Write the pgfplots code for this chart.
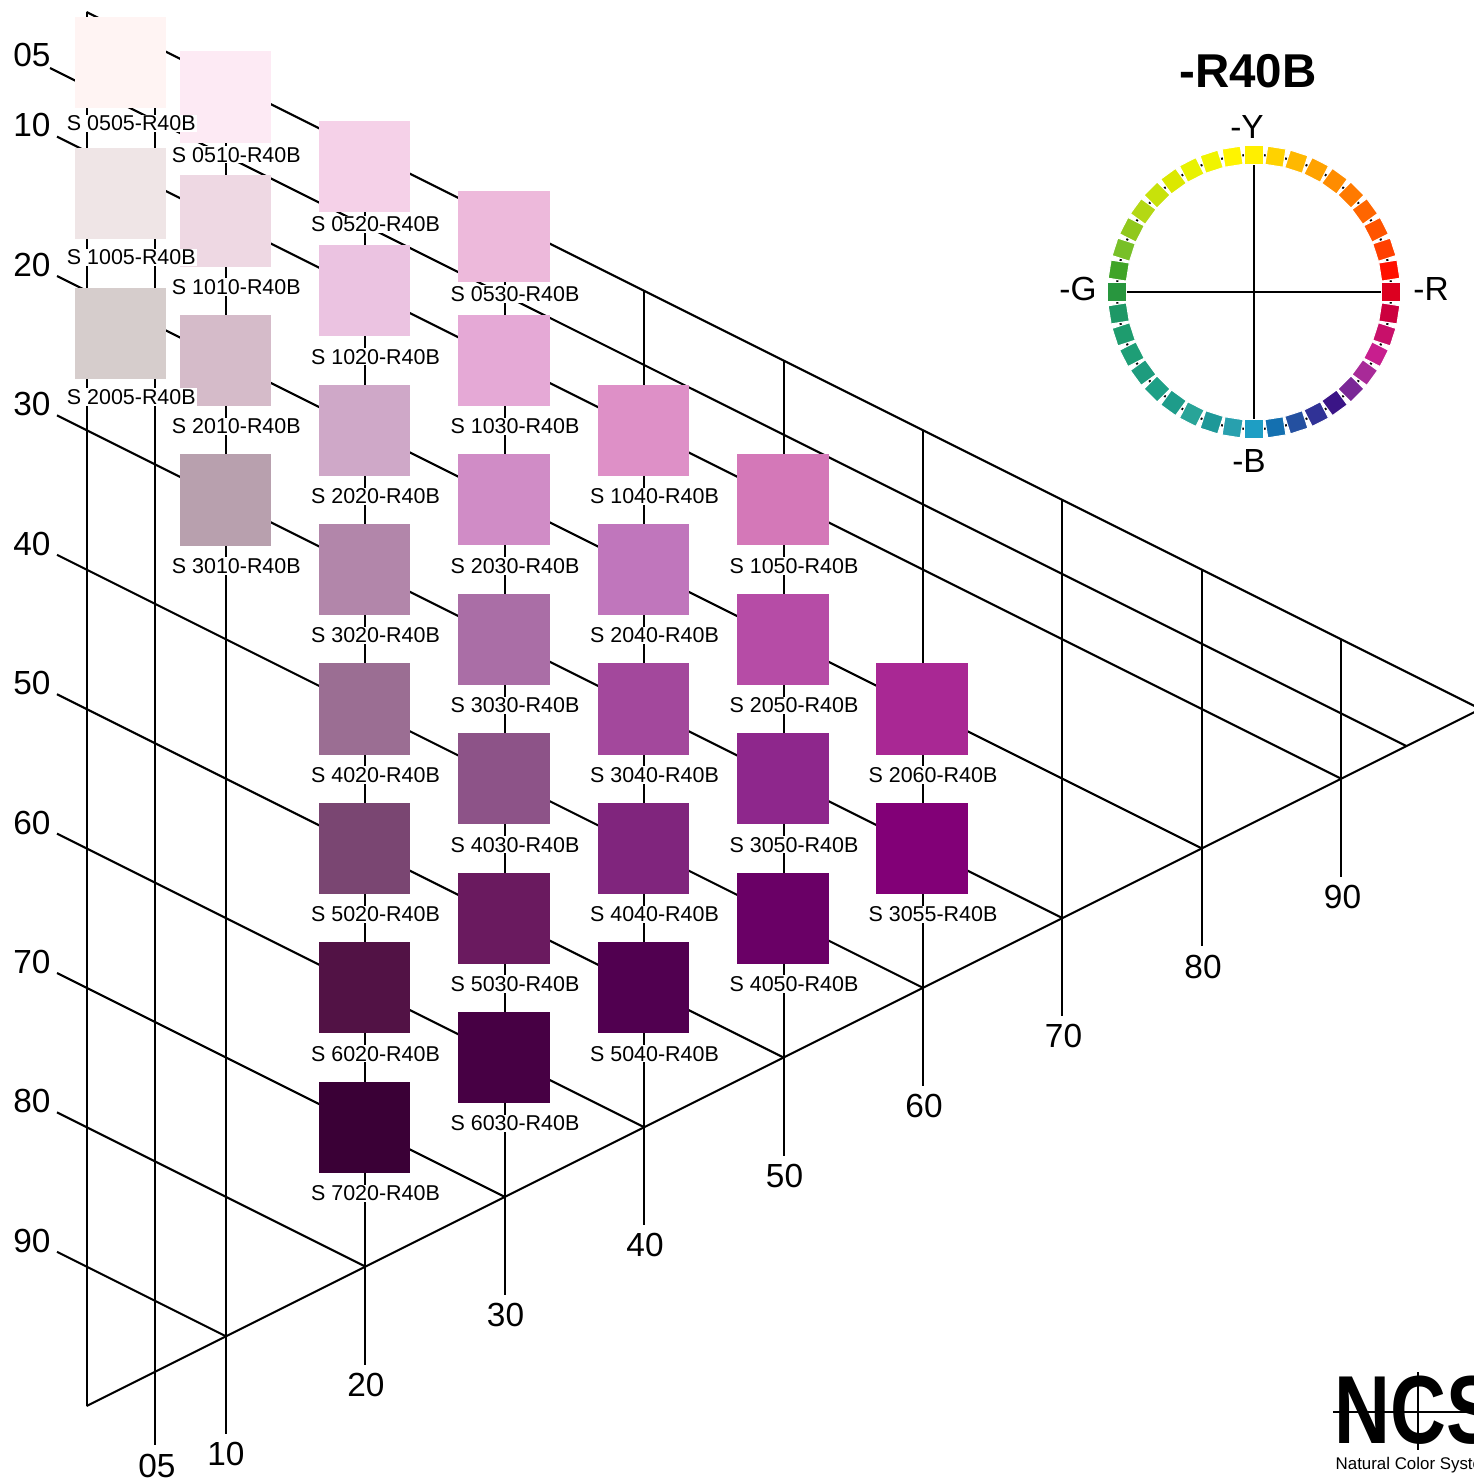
\documentclass[border=0pt]{standalone}
\usepackage{pgfplots}
\pgfplotsset{compat=1.18}
\usepackage{fontspec}
\setmainfont{Liberation Sans}
% patch colours
\definecolor{c0505}{HTML}{FFF4F3}
\definecolor{c1005}{HTML}{EFE5E6}
\definecolor{c2005}{HTML}{D6CDCC}
\definecolor{c0510}{HTML}{FDEAF4}
\definecolor{c1010}{HTML}{EED8E3}
\definecolor{c2010}{HTML}{D5BBC9}
\definecolor{c3010}{HTML}{B8A0AE}
\definecolor{c0520}{HTML}{F5D1E8}
\definecolor{c1020}{HTML}{EBC3E1}
\definecolor{c2020}{HTML}{CFA8C8}
\definecolor{c3020}{HTML}{B286AA}
\definecolor{c4020}{HTML}{9B6E93}
\definecolor{c5020}{HTML}{7A4672}
\definecolor{c6020}{HTML}{521245}
\definecolor{c7020}{HTML}{3A0036}
\definecolor{c0530}{HTML}{EDB9DB}
\definecolor{c1030}{HTML}{E5A9D6}
\definecolor{c2030}{HTML}{D08CC6}
\definecolor{c3030}{HTML}{AA6EA6}
\definecolor{c4030}{HTML}{8D5388}
\definecolor{c5030}{HTML}{6A1A5F}
\definecolor{c6030}{HTML}{470044}
\definecolor{c1040}{HTML}{DE90C7}
\definecolor{c2040}{HTML}{C076BC}
\definecolor{c3040}{HTML}{A3489C}
\definecolor{c4040}{HTML}{80257D}
\definecolor{c5040}{HTML}{510050}
\definecolor{c1050}{HTML}{D478B8}
\definecolor{c2050}{HTML}{B64CA6}
\definecolor{c3050}{HTML}{8E278C}
\definecolor{c4050}{HTML}{6A0066}
\definecolor{c2060}{HTML}{A92894}
\definecolor{c3055}{HTML}{820077}
% hue circle colours
\definecolor{h0}{HTML}{FFEF00}
\definecolor{h1}{HTML}{FFD200}
\definecolor{h2}{HTML}{FFB800}
\definecolor{h3}{HTML}{FFA200}
\definecolor{h4}{HTML}{FF8C00}
\definecolor{h5}{HTML}{FF7A00}
\definecolor{h6}{HTML}{FF6600}
\definecolor{h7}{HTML}{FF5400}
\definecolor{h8}{HTML}{FF4000}
\definecolor{h9}{HTML}{FF1000}
\definecolor{h10}{HTML}{DC0020}
\definecolor{h11}{HTML}{CC003E}
\definecolor{h12}{HTML}{C8106A}
\definecolor{h13}{HTML}{C81E8E}
\definecolor{h14}{HTML}{A82A98}
\definecolor{h15}{HTML}{7A2896}
\definecolor{h16}{HTML}{3A1486}
\definecolor{h17}{HTML}{303296}
\definecolor{h18}{HTML}{2450A0}
\definecolor{h19}{HTML}{1470B0}
\definecolor{h20}{HTML}{1E9EC4}
\definecolor{h21}{HTML}{28A0AE}
\definecolor{h22}{HTML}{1E9898}
\definecolor{h23}{HTML}{28A498}
\definecolor{h24}{HTML}{1E9C8A}
\definecolor{h25}{HTML}{1EA086}
\definecolor{h26}{HTML}{1E9C7E}
\definecolor{h27}{HTML}{1E9E76}
\definecolor{h28}{HTML}{1E9C6E}
\definecolor{h29}{HTML}{1E9866}
\definecolor{h30}{HTML}{28963E}
\definecolor{h31}{HTML}{40A428}
\definecolor{h32}{HTML}{78C028}
\definecolor{h33}{HTML}{90C81C}
\definecolor{h34}{HTML}{B4D814}
\definecolor{h35}{HTML}{C8E20A}
\definecolor{h36}{HTML}{DCE800}
\definecolor{h37}{HTML}{E8F200}
\definecolor{h38}{HTML}{F0F400}
\definecolor{h39}{HTML}{FFF400}
\newcommand{\tline}[4]{\addplot[black, line width=0.6pt] coordinates {(#1,#2) (#3,#4)};}
\newcommand{\patch}[3]{%
  \addplot[only marks, mark=square*, mark size=0.45cm, color=#3, mark options={line width=0pt}] coordinates {(#1,#2)};}
\newcommand{\plab}[3]{\node[lbl] at (axis cs:#1,#2) {S #3-R40B};}
\newcommand{\hsq}[4]{%
  \addplot[only marks, mark=square*, mark size=0.092cm, mark options={rotate=#3, fill=#4, draw=white, line width=0.3pt}] coordinates {(#1,#2)};}
\begin{document}
\begin{tikzpicture}[
  lbl/.style={fill=white, inner xsep=0.4pt, inner ysep=0.3pt, font=\fontsize{6.1}{7}\selectfont},
  num/.style={font=\fontsize{9.5}{11}\selectfont, inner sep=0pt}]
\begin{axis}[name=ax, x=0.01cm, y=0.01cm, y dir=reverse,
  xmin=0, xmax=1474, ymin=0, ymax=1480, hide axis, clip=false, clip marker paths=true]
% triangle frame
\tline{86.6}{12}{1480.6}{709}
\tline{86.6}{12}{86.6}{1406}
\tline{86.6}{1406}{1480.6}{709}
% blackness lines
\tline{50}{68}{1406.3}{746}
\tline{57}{136.6}{1341.2}{778.7}
\tline{57}{276}{1201.8}{848.4}
\tline{57}{415.4}{1062.4}{918.1}
\tline{57}{554.8}{923}{987.8}
\tline{57}{694.2}{783.6}{1057.5}
\tline{57}{833.6}{644.2}{1127.2}
\tline{57}{973}{504.8}{1196.9}
\tline{57}{1112.4}{365.4}{1266.6}
\tline{57}{1251.8}{226}{1336.3}
% chromaticness lines
\tline{155}{46.2}{155}{1445}
\tline{226}{81.7}{226}{1434.3}
\tline{365.4}{151.4}{365.4}{1364.6}
\tline{504.8}{221.1}{504.8}{1294.9}
\tline{644.2}{290.8}{644.2}{1225.2}
\tline{783.6}{360.5}{783.6}{1155.5}
\tline{923}{430.2}{923}{1085.8}
\tline{1062.4}{499.9}{1062.4}{1016.1}
\tline{1201.8}{569.6}{1201.8}{946.4}
\tline{1341.2}{639.3}{1341.2}{876.7}
% scale labels
\node[num] at (axis cs:32,55) {05};
\node[num] at (axis cs:32,125) {10};
\node[num] at (axis cs:32,264.5) {20};
\node[num] at (axis cs:32,404) {30};
\node[num] at (axis cs:32,543.5) {40};
\node[num] at (axis cs:32,683) {50};
\node[num] at (axis cs:32,822.5) {60};
\node[num] at (axis cs:32,962) {70};
\node[num] at (axis cs:32,1101) {80};
\node[num] at (axis cs:32,1240.5) {90};
\node[num] at (axis cs:157,1466) {05};
\node[num] at (axis cs:226,1454) {10};
\node[num] at (axis cs:366,1385) {20};
\node[num] at (axis cs:505.5,1315) {30};
\node[num] at (axis cs:645,1245) {40};
\node[num] at (axis cs:784.5,1176) {50};
\node[num] at (axis cs:924,1106) {60};
\node[num] at (axis cs:1063.5,1036) {70};
\node[num] at (axis cs:1203,966.5) {80};
\node[num] at (axis cs:1342.5,897) {90};
% patches
\patch{120.2}{62.8}{c0505}
\patch{120.2}{193.7}{c1005}
\patch{120.2}{333.3}{c2005}
\patch{225.5}{97}{c0510}
\patch{225.5}{221}{c1010}
\patch{225.5}{360.5}{c2010}
\patch{225.5}{500}{c3010}
\patch{364.5}{166.8}{c0520}
\patch{364.5}{290.8}{c1020}
\patch{364.5}{430.2}{c2020}
\patch{364.5}{569.6}{c3020}
\patch{364.5}{709}{c4020}
\patch{364.5}{848.4}{c5020}
\patch{364.5}{987.8}{c6020}
\patch{364.5}{1127.2}{c7020}
\patch{504}{236.6}{c0530}
\patch{504}{360.5}{c1030}
\patch{504}{499.9}{c2030}
\patch{504}{639.3}{c3030}
\patch{504}{778.7}{c4030}
\patch{504}{918.1}{c5030}
\patch{504}{1057.5}{c6030}
\patch{643.5}{430.2}{c1040}
\patch{643.5}{569.6}{c2040}
\patch{643.5}{709}{c3040}
\patch{643.5}{848.4}{c4040}
\patch{643.5}{987.8}{c5040}
\patch{783}{499.9}{c1050}
\patch{783}{639.3}{c2050}
\patch{783}{778.7}{c3050}
\patch{783}{918.1}{c4050}
\patch{922}{709}{c2060}
\patch{922}{848.4}{c3055}
% patch labels
\plab{131.3}{123.3}{0505}
\plab{131.3}{257.2}{1005}
\plab{131.3}{397}{2005}
\plab{236.3}{154.8}{0510}
\plab{236.3}{287}{1010}
\plab{236.3}{426.5}{2010}
\plab{236.3}{566}{3010}
\plab{375.5}{224.3}{0520}
\plab{375.5}{356.8}{1020}
\plab{375.5}{496.2}{2020}
\plab{375.5}{635.6}{3020}
\plab{375.5}{775}{4020}
\plab{375.5}{914.4}{5020}
\plab{375.5}{1053.8}{6020}
\plab{375.5}{1193.2}{7020}
\plab{515}{294.1}{0530}
\plab{515}{426.5}{1030}
\plab{515}{565.9}{2030}
\plab{515}{705.3}{3030}
\plab{515}{844.7}{4030}
\plab{515}{984.1}{5030}
\plab{515}{1123.5}{6030}
\plab{654.5}{496.2}{1040}
\plab{654.5}{635.6}{2040}
\plab{654.5}{775}{3040}
\plab{654.5}{914.4}{4040}
\plab{654.5}{1053.8}{5040}
\plab{794}{565.9}{1050}
\plab{794}{705.3}{2050}
\plab{794}{844.7}{3050}
\plab{794}{984.1}{4050}
\plab{933}{775}{2060}
\plab{933}{914.4}{3055}
% hue circle
\draw[black, line width=0.6pt] (axis cs:1254,292) circle[radius=1.37cm];
\tline{1117}{292}{1391}{292}
\tline{1254}{155}{1254}{429}
\hsq{1254}{155}{90}{h0}
\hsq{1275.4}{156.7}{81}{h1}
\hsq{1296.3}{161.7}{72}{h2}
\hsq{1316.2}{169.9}{63}{h3}
\hsq{1334.5}{181.2}{54}{h4}
\hsq{1350.9}{195.1}{45}{h5}
\hsq{1364.8}{211.5}{36}{h6}
\hsq{1376.1}{229.8}{27}{h7}
\hsq{1384.3}{249.7}{18}{h8}
\hsq{1389.3}{270.6}{9}{h9}
\hsq{1391}{292}{0}{h10}
\hsq{1389.3}{313.4}{-9}{h11}
\hsq{1384.3}{334.3}{-18}{h12}
\hsq{1376.1}{354.2}{-27}{h13}
\hsq{1364.8}{372.5}{-36}{h14}
\hsq{1350.9}{388.9}{-45}{h15}
\hsq{1334.5}{402.8}{-54}{h16}
\hsq{1316.2}{414.1}{-63}{h17}
\hsq{1296.3}{422.3}{-72}{h18}
\hsq{1275.4}{427.3}{-81}{h19}
\hsq{1254}{429}{-90}{h20}
\hsq{1232.6}{427.3}{-99}{h21}
\hsq{1211.7}{422.3}{-108}{h22}
\hsq{1191.8}{414.1}{-117}{h23}
\hsq{1173.5}{402.8}{-126}{h24}
\hsq{1157.1}{388.9}{-135}{h25}
\hsq{1143.2}{372.5}{-144}{h26}
\hsq{1131.9}{354.2}{-153}{h27}
\hsq{1123.7}{334.3}{-162}{h28}
\hsq{1118.7}{313.4}{-171}{h29}
\hsq{1117}{292}{180}{h30}
\hsq{1118.7}{270.6}{171}{h31}
\hsq{1123.7}{249.7}{162}{h32}
\hsq{1131.9}{229.8}{153}{h33}
\hsq{1143.2}{211.5}{144}{h34}
\hsq{1157.1}{195.1}{135}{h35}
\hsq{1173.5}{181.2}{126}{h36}
\hsq{1191.8}{169.9}{117}{h37}
\hsq{1211.7}{161.7}{108}{h38}
\hsq{1232.6}{156.7}{99}{h39}
\node[font=\bfseries\fontsize{13.5}{15}\selectfont] at (axis cs:1248,71) {-R40B};
\node[num] at (axis cs:1247,127) {-Y};
\node[num] at (axis cs:1078,289) {-G};
\node[num] at (axis cs:1431,289) {-R};
\node[num] at (axis cs:1249,461) {-B};
% logo
\tline{1333}{1412}{1474}{1412}
\tline{1418}{1372}{1418}{1450}
\node[anchor=base west, inner sep=0pt, xscale=0.8, font=\bfseries\fontsize{27.5}{28}\selectfont] at (axis cs:1334,1443) {NCS};
\node[anchor=west, inner sep=0pt, font=\fontsize{4.8}{5}\selectfont] at (axis cs:1335,1465) {Natural Color System};
\end{axis}
\pgfresetboundingbox
\path (ax.south west) rectangle (ax.north east);
\end{tikzpicture}
\end{document}
